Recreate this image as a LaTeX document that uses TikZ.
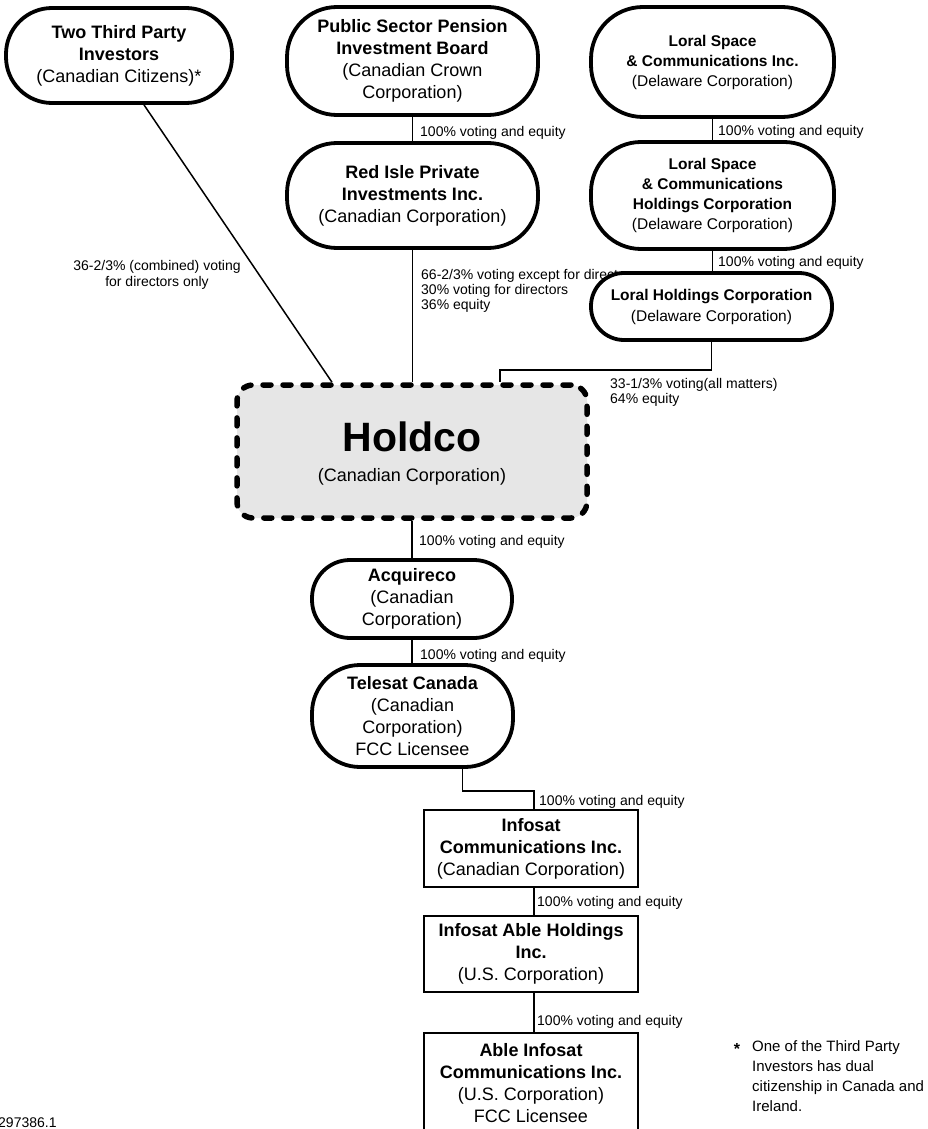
\documentclass[tikz,border=0pt]{standalone}
\usepackage{fontspec}
\setmainfont{Liberation Sans}
\usetikzlibrary{backgrounds}
\definecolor{holdgray}{HTML}{E6E6E6}
\begin{document}
\begin{tikzpicture}[x=1pt,y=-1pt,
  stadium/.style={draw, line width=3.8pt, fill=white, rounded corners=#1, inner sep=0pt, align=center, font=\fontsize{18}{22}\selectfont},
  loral/.style={stadium=#1, font=\fontsize{15.5}{20}\selectfont},
  boxed/.style={draw, line width=2.5pt, fill=white, inner sep=0pt, align=center, font=\fontsize{18}{22}\selectfont},
  conn/.style={line width=1.8pt},
  lab/.style={anchor=west, inner sep=0pt, font=\fontsize{14}{15}\selectfont},
  labblock/.style={anchor=north west, inner sep=0pt, align=left, font=\fontsize{14}{15}\selectfont}
]
\useasboundingbox (0,0) rectangle (927,1129);
\clip (0,0) rectangle (927,1129);

% ---- nodes ----
\node[stadium=46pt, minimum width=226pt, minimum height=95pt] (ttp) at (119,55.5)
  {\textbf{Two Third Party}\\\textbf{Investors}\\(Canadian Citizens)*};
\node[stadium=50pt, minimum width=251pt, minimum height=108pt] (psp) at (412.5,61)
  {\textbf{Public Sector Pension}\\\textbf{Investment Board}\\(Canadian Crown\\Corporation)};
\node[stadium=50pt, minimum width=251pt, minimum height=105pt] (redisle) at (412.5,195.5)
  {\textbf{Red Isle Private}\\\textbf{Investments Inc.}\\(Canadian Corporation)};
\node[loral=52pt, minimum width=243pt, minimum height=110pt] (lsc) at (712.5,62)
  {\textbf{Loral Space}\\\textbf{\& Communications Inc.}\\(Delaware Corporation)};
\node[loral=50pt, minimum width=243pt, minimum height=107pt] (lsch) at (712.5,195.5)
  {\textbf{Loral Space}\\\textbf{\& Communications}\\\textbf{Holdings Corporation}\\(Delaware Corporation)};

\node[draw, line width=5.5pt, dash pattern=on 8pt off 12pt, line cap=round, fill=holdgray,
  rounded corners=16pt, minimum width=350pt, minimum height=133pt, inner sep=0pt] (holdco) at (412,451.5) {};
\node[inner sep=0pt, font=\bfseries\fontsize{41}{44}\selectfont] (holdcoT) at (412,437) {Holdco};
\node[inner sep=0pt, font=\fontsize{18}{22}\selectfont] (holdcoS) at (412,477) {(Canadian Corporation)};

\node[stadium=38pt, minimum width=200pt, minimum height=78pt] (acq) at (412,599)
  {\textbf{Acquireco}\\(Canadian\\Corporation)};
\node[stadium=48pt, minimum width=201pt, minimum height=102pt] (telesat) at (412.5,716)
  {\textbf{Telesat Canada}\\(Canadian\\Corporation)\\FCC Licensee};
\node[boxed, minimum width=214pt, minimum height=77pt] (infosat) at (531,848.5)
  {\textbf{Infosat}\\\textbf{Communications Inc.}\\(Canadian Corporation)};
\node[boxed, minimum width=214pt, minimum height=76pt] (iah) at (531,954)
  {\textbf{Infosat Able Holdings}\\\textbf{Inc.}\\(U.S. Corporation)};
\node[boxed, minimum width=214pt, minimum height=100pt] (aic) at (531,1083)
  {\textbf{Able Infosat}\\\textbf{Communications Inc.}\\(U.S. Corporation)\\FCC Licensee};

% ---- connectors and labels under the boxes ----
\begin{scope}[on background layer]
\draw[conn] (psp.south) -- (redisle.north);
\draw[conn] (lsc.south) -- (lsch.north -| lsc.south);
\draw[conn] (lsch.south) -- ++(0,30);
\draw[conn] (redisle.south) -- (holdco.north -| redisle.south);
\draw[line width=1.5pt] ([xshift=25pt]ttp.south) -- ([xshift=-80pt]holdco.north);
\draw[conn] (holdco.south) -- (acq.north);
\draw[conn] (acq.south) -- (acq.south |- telesat.north);
\draw[conn] ([xshift=50pt]telesat.south) -- ++(0,22) -| ([xshift=3pt]infosat.north);
\draw[conn] ([xshift=3pt]infosat.south) -- ([xshift=3pt]iah.north);
\draw[conn] ([xshift=3pt]iah.south) -- ([xshift=3pt]aic.north);

\node[lab] (l1) at (420,133) {100\% voting and equity};
\node[lab] (l2) at (718,132) {100\% voting and equity};
\node[lab] (l3) at (718,263) {100\% voting and equity};
\node[labblock] (l4) at (421,269) {66-2/3\% voting except for directors\\30\% voting for directors\\36\% equity};
\node[inner sep=0pt, align=center, font=\fontsize{14}{16}\selectfont] (l5) at (157,275) {36-2/3\% (combined) voting\\for directors only};
\node[labblock] (l6) at (610,378) {33-1/3\% voting(all matters)\\64\% equity};
\node[lab] (l7) at (419,542) {100\% voting and equity};
\node[lab] (l8) at (420,656) {100\% voting and equity};
\node[lab] (l9) at (539,802) {100\% voting and equity};
\node[lab] (l10) at (537,903) {100\% voting and equity};
\node[lab] (l11) at (537,1022) {100\% voting and equity};
\end{scope}

% Loral Holdings drawn over the Red Isle label
\node[loral=33pt, minimum width=241pt, minimum height=67pt, font=\fontsize{15.5}{21}\selectfont] (lhc) at (711.5,306.5)
  {\textbf{Loral Holdings Corporation}\\(Delaware Corporation)};
\begin{scope}[on background layer]
\draw[conn] (lhc.south) -- ++(0,28) -| ([xshift=88pt]holdco.north);
\end{scope}

% footnote
\node[inner sep=0pt, font=\bfseries\fontsize{16}{20}\selectfont] (star) at (737,1049) {*};
\node[anchor=north west, inner sep=0pt, align=left, font=\fontsize{15}{20}\selectfont] (foot) at (752,1040)
  {One of the Third Party\\Investors has dual\\citizenship in Canada and\\Ireland.};
\node[lab] (docno) at (-2,1123) {297386.1};
\end{tikzpicture}
\end{document}
